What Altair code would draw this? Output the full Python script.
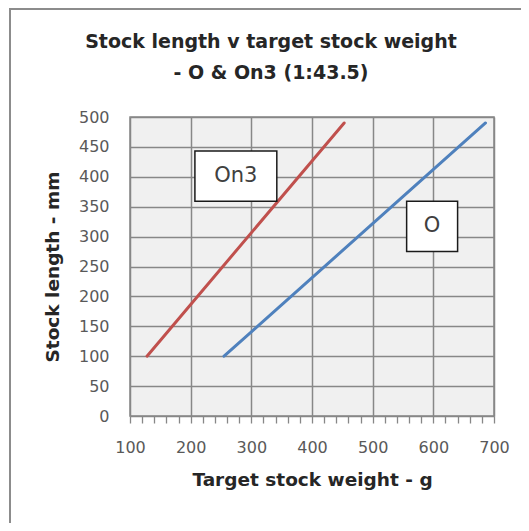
import altair as alt
import pandas as pd

# Data
series = ["On3", "On3", "O", "O"]
weight_g = [128, 453, 255, 686]
length_mm = [100, 490, 100, 490]

label_text = ["On3", "O"]
label_x1 = [207, 556]
label_x2 = [342, 640]
label_y1 = [359, 275]
label_y2 = [443, 359]

x_ticks = [100, 120, 140, 160, 180, 200, 220, 240, 260, 280, 300, 320, 340, 360, 380,
           400, 420, 440, 460, 480, 500, 520, 540, 560, 580, 600, 620, 640, 660, 680, 700]
y_ticks = [0, 50, 100, 150, 200, 250, 300, 350, 400, 450, 500]

title_lines = ["Stock length v target stock weight", "- O & On3 (1:43.5)"]

lines_df = pd.DataFrame({"series": series, "w": weight_g, "l": length_mm})
labels_df = pd.DataFrame({
    "text": label_text, "x1": label_x1, "x2": label_x2, "y1": label_y1, "y2": label_y2,
})
labels_df["xc"] = (labels_df["x1"] + labels_df["x2"]) / 2
labels_df["yc"] = (labels_df["y1"] + labels_df["y2"]) / 2

FONT = "DejaVu Sans"
GRID = "#878787"

xscale = alt.Scale(domain=[100, 700], nice=False, zero=False)
yscale = alt.Scale(domain=[0, 500], nice=False)

x_axis = alt.Axis(
    title="Target stock weight - g", values=x_ticks,
    labelExpr="datum.value % 100 === 0 ? datum.label : ''",
    labelOverlap=False, labelFlush=False,
    gridOpacity={"condition": {"test": "datum.value % 100 === 0", "value": 1}, "value": 0},
    grid=True, gridColor=GRID, gridWidth=1.5,
    ticks=True, tickSize=7, tickColor=GRID, tickWidth=1.3,
    domain=False, labelPadding=16, labelFontSize=16, labelColor="#595959",
    labelFont=FONT, titleFont=FONT, titleFontSize=18.5, titleFontWeight="bold",
    titleColor="#262626", titlePadding=15,
)
y_axis = alt.Axis(
    title="Stock length - mm", values=y_ticks, labelOverlap=False, labelFlush=False,
    grid=True, gridColor=GRID, gridWidth=1.5,
    ticks=False, domain=False, labelPadding=21, labelFontSize=16, labelColor="#595959",
    labelFont=FONT, titleFont=FONT, titleFontSize=18.5, titleFontWeight="bold",
    titleColor="#262626", titlePadding=16,
)

lines = alt.Chart(lines_df).mark_line(strokeWidth=3, strokeCap="round").encode(
    x=alt.X("w:Q", scale=xscale, axis=x_axis),
    y=alt.Y("l:Q", scale=yscale, axis=y_axis),
    color=alt.Color("series:N", scale=alt.Scale(domain=["On3", "O"], range=["#c0504d", "#4f81bd"]),
                    legend=None),
    detail="series:N",
)

boxes = alt.Chart(labels_df).mark_rect(fill="white", stroke="#1a1a1a", strokeWidth=1.5).encode(
    x=alt.X("x1:Q", scale=xscale, axis=x_axis), x2="x2:Q",
    y=alt.Y("y1:Q", scale=yscale, axis=y_axis), y2="y2:Q",
)
texts = alt.Chart(labels_df).mark_text(font=FONT, fontSize=21, color="#404040").encode(
    x=alt.X("xc:Q", scale=xscale, axis=x_axis), y=alt.Y("yc:Q", scale=yscale, axis=y_axis),
    text="text:N",
)

one = pd.DataFrame({"a": [0]})
border_top = alt.Chart(one).mark_rule(stroke="#8c8c8c", strokeWidth=2).encode(
    x=alt.value(-121), x2=alt.value(400), y=alt.value(-108),
)
border_left = alt.Chart(one).mark_rule(stroke="#8c8c8c", strokeWidth=2).encode(
    x=alt.value(-120), y=alt.value(-109), y2=alt.value(420),
)

title1 = alt.Chart(pd.DataFrame({"t": [title_lines[0]]})).mark_text(
    font=FONT, fontSize=19, fontWeight="bold", color="#262626"
).encode(text="t:N", x=alt.value(141), y=alt.value(-75))
title2 = alt.Chart(pd.DataFrame({"t": [title_lines[1]]})).mark_text(
    font=FONT, fontSize=19, fontWeight="bold", color="#262626"
).encode(text="t:N", x=alt.value(141), y=alt.value(-44))

chart = alt.layer(lines, boxes, texts, border_top, border_left, title1, title2).properties(
    width=364, height=299,
    padding={"left": 122, "top": 109, "right": 27, "bottom": 107},
    autosize=alt.AutoSizeParams(type="none"),
).configure(
    background="white"
).configure_view(
    fill="#f0f0f0", stroke=GRID, strokeWidth=1.5
)

chart.save("out.html", embed_options={"renderer": "svg", "actions": False})
